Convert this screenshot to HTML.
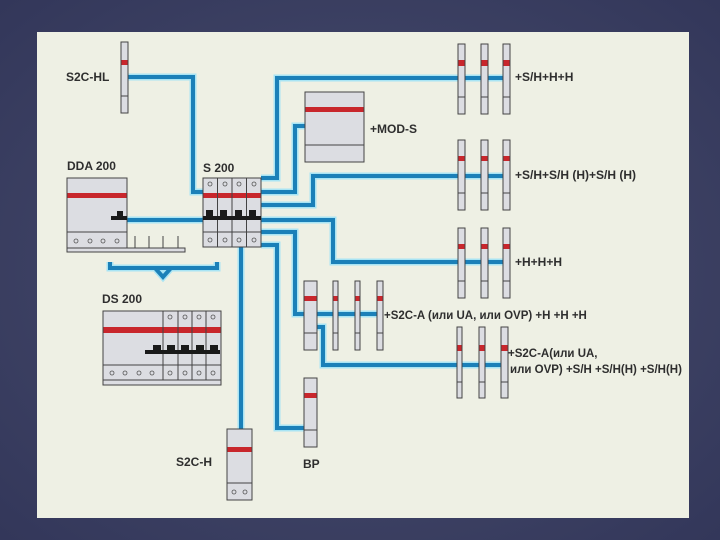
<!DOCTYPE html>
<html><head><meta charset="utf-8"><style>
html,body{margin:0;padding:0;background:#3b3f5f;}
svg{display:block}
text{font-family:"Liberation Sans",sans-serif;font-weight:bold;fill:#2e2e2e;font-size:12px}
.m{fill:#dcdde2;stroke:#444;stroke-width:1}
.r{fill:#c8262c}
.l{stroke:#444;stroke-width:1}
.wh{fill:none;stroke:#a8e4f4;stroke-width:7}
.w{fill:none;stroke:#1b80b8;stroke-width:4}
.c{fill:none;stroke:#555;stroke-width:0.8}
.k{fill:#1a1a1a}
</style></head><body>
<svg width="720" height="540" viewBox="0 0 720 540">
<defs>
<radialGradient id="bg" cx="50%" cy="50%" r="70%"><stop offset="0" stop-color="#4a4f70"/><stop offset="1" stop-color="#33375a"/></radialGradient>
</defs>
<rect width="720" height="540" fill="url(#bg)"/>
<rect x="37" y="32" width="652" height="486" fill="#eef0e4"/>

<g class="wh">
<path d="M128 77 H193 V192 H203"/><path d="M127 220 H333 V262 H505"/><path d="M261 178 H277 V78 H505"/><path d="M261 192 H295 V126 H305"/><path d="M261 205 H313 V176 H505"/><path d="M261 232 H295 V314 H380"/><path d="M261 245 H277 V428 H304"/><path d="M241 247 V429"/><path d="M317 327 H323 V365 H502"/><path d="M110 262 V268 H217 V262 M155 268 L163 277 L171 268"/>
</g>
<g class="w">
<path d="M128 77 H193 V192 H203"/><path d="M127 220 H333 V262 H505"/><path d="M261 178 H277 V78 H505"/><path d="M261 192 H295 V126 H305"/><path d="M261 205 H313 V176 H505"/><path d="M261 232 H295 V314 H380"/><path d="M261 245 H277 V428 H304"/><path d="M241 247 V429"/><path d="M317 327 H323 V365 H502"/><path d="M110 262 V268 H217 V262 M155 268 L163 277 L171 268"/>
</g>

<!-- S2C-HL -->
<rect class="m" x="121" y="42" width="7" height="71"/><rect class="r" x="121.5" y="60" width="6" height="5"/><line class="l" x1="121" y1="96" x2="128" y2="96"/>
<text x="66" y="81">S2C-HL</text>

<!-- DDA 200 -->
<text x="67" y="170">DDA 200</text>
<rect class="m" x="67" y="178" width="60" height="70"/>
<rect class="r" x="67.5" y="193" width="59" height="5"/>
<rect class="k" x="117" y="211" width="6" height="6"/><rect class="k" x="111" y="216" width="16" height="4"/>
<line class="l" x1="67" y1="232" x2="127" y2="232"/>
<g class="c"><circle cx="76" cy="241" r="2"/><circle cx="90" cy="241" r="2"/><circle cx="103" cy="241" r="2"/><circle cx="117" cy="241" r="2"/></g>
<rect class="m" x="67" y="248" width="118" height="4"/>
<g class="l" stroke-width="1.5"><line x1="135" y1="236" x2="135" y2="248"/><line x1="149" y1="236" x2="149" y2="248"/><line x1="163" y1="236" x2="163" y2="248"/><line x1="178" y1="236" x2="178" y2="248"/></g>

<!-- S 200 -->
<text x="203" y="172">S 200</text>
<rect class="m" x="203" y="178" width="58" height="69"/>
<rect class="r" x="203.5" y="193" width="57" height="5"/>
<g class="l"><line x1="217.5" y1="178" x2="217.5" y2="247"/><line x1="232" y1="178" x2="232" y2="247"/><line x1="246.5" y1="178" x2="246.5" y2="247"/><line x1="203" y1="232" x2="261" y2="232"/></g>
<g class="k"><rect x="206" y="210" width="7" height="7"/><rect x="220" y="210" width="7" height="7"/><rect x="235" y="210" width="7" height="7"/><rect x="249" y="210" width="7" height="7"/><rect x="203" y="216" width="58" height="4"/></g>
<g class="c"><circle cx="210" cy="184" r="2"/><circle cx="225" cy="184" r="2"/><circle cx="239" cy="184" r="2"/><circle cx="254" cy="184" r="2"/><circle cx="210" cy="240" r="2"/><circle cx="225" cy="240" r="2"/><circle cx="239" cy="240" r="2"/><circle cx="254" cy="240" r="2"/></g>

<!-- MOD-S -->
<rect class="m" x="305" y="92" width="59" height="70"/><rect class="r" x="305.5" y="107" width="58" height="5"/><line class="l" x1="305" y1="145" x2="364" y2="145"/>
<text x="370" y="133">+MOD-S</text>

<!-- top rows -->
<rect class="m" x="458" y="44" width="7" height="70"/><rect class="m" x="481" y="44" width="7" height="70"/><rect class="m" x="503" y="44" width="7" height="70"/>
<rect class="r" x="458.5" y="60" width="6" height="6"/><rect class="r" x="481.5" y="60" width="6" height="6"/><rect class="r" x="503.5" y="60" width="6" height="6"/>
<g class="l"><line x1="458" y1="97" x2="465" y2="97"/><line x1="481" y1="97" x2="488" y2="97"/><line x1="503" y1="97" x2="510" y2="97"/></g>
<text x="515" y="81">+S/H+H+H</text>

<rect class="m" x="458" y="140" width="7" height="70"/><rect class="m" x="481" y="140" width="7" height="70"/><rect class="m" x="503" y="140" width="7" height="70"/>
<rect class="r" x="458.5" y="156" width="6" height="5"/><rect class="r" x="481.5" y="156" width="6" height="5"/><rect class="r" x="503.5" y="156" width="6" height="5"/>
<g class="l"><line x1="458" y1="193" x2="465" y2="193"/><line x1="481" y1="193" x2="488" y2="193"/><line x1="503" y1="193" x2="510" y2="193"/></g>
<text x="515" y="179">+S/H+S/H (H)+S/H (H)</text>

<rect class="m" x="458" y="228" width="7" height="70"/><rect class="m" x="481" y="228" width="7" height="70"/><rect class="m" x="503" y="228" width="7" height="70"/>
<rect class="r" x="458.5" y="244" width="6" height="5"/><rect class="r" x="481.5" y="244" width="6" height="5"/><rect class="r" x="503.5" y="244" width="6" height="5"/>
<g class="l"><line x1="458" y1="281" x2="465" y2="281"/><line x1="481" y1="281" x2="488" y2="281"/><line x1="503" y1="281" x2="510" y2="281"/></g>
<text x="515" y="266">+H+H+H</text>

<!-- S2C-A row -->
<rect class="m" x="304" y="281" width="13" height="69"/><rect class="r" x="304.5" y="296" width="12" height="5"/><line class="l" x1="304" y1="333" x2="317" y2="333"/>
<rect class="m" x="333" y="281" width="5" height="69"/><rect class="m" x="355" y="281" width="5" height="69"/><rect class="m" x="377" y="281" width="6" height="69"/>
<rect class="r" x="333.5" y="296" width="4" height="5"/><rect class="r" x="355.5" y="296" width="4" height="5"/><rect class="r" x="377.5" y="296" width="5" height="5"/>
<g class="l"><line x1="333" y1="333" x2="338" y2="333"/><line x1="355" y1="333" x2="360" y2="333"/><line x1="377" y1="333" x2="383" y2="333"/></g>
<text x="384" y="319" style="font-size:11.5px">+S2C-A (или UA, или OVP) +H +H +H</text>

<!-- second S2C-A row -->
<rect class="m" x="457" y="327" width="5" height="71"/><rect class="m" x="479" y="327" width="6" height="71"/><rect class="m" x="501" y="327" width="7" height="71"/>
<rect class="r" x="457.5" y="345" width="4" height="6"/><rect class="r" x="479.5" y="345" width="5" height="6"/><rect class="r" x="501.5" y="345" width="6" height="6"/>
<g class="l" stroke-width="1.5"><line x1="457" y1="382" x2="462" y2="382"/><line x1="479" y1="382" x2="485" y2="382"/><line x1="501" y1="382" x2="508" y2="382"/></g>
<text x="508" y="357" style="font-size:11.5px">+S2C-A(или UA,</text>
<text x="510" y="373" style="font-size:11.5px">или OVP) +S/H +S/H(H) +S/H(H)</text>

<!-- BP -->
<rect class="m" x="304" y="378" width="13" height="69"/><rect class="r" x="304.5" y="393" width="12" height="5"/><line class="l" x1="304" y1="430" x2="317" y2="430"/>
<text x="303" y="468">BP</text>

<!-- DS 200 -->
<text x="102" y="303">DS 200</text>
<rect class="m" x="103" y="311" width="118" height="74"/>
<rect class="r" x="103.5" y="327" width="117" height="6"/>
<g class="l"><line x1="163" y1="311" x2="163" y2="380"/><line x1="178" y1="311" x2="178" y2="380"/><line x1="192" y1="311" x2="192" y2="380"/><line x1="206" y1="311" x2="206" y2="380"/><line x1="103" y1="365" x2="221" y2="365"/><line x1="103" y1="380" x2="221" y2="380"/></g>
<g class="k"><rect x="153" y="345" width="8" height="7"/><rect x="167" y="345" width="8" height="7"/><rect x="181" y="345" width="8" height="7"/><rect x="196" y="345" width="8" height="7"/><rect x="210" y="345" width="8" height="7"/><rect x="145" y="350" width="75" height="4"/></g>
<g class="c"><circle cx="170" cy="317" r="2"/><circle cx="185" cy="317" r="2"/><circle cx="199" cy="317" r="2"/><circle cx="213" cy="317" r="2"/>
<circle cx="112" cy="373" r="2"/><circle cx="125" cy="373" r="2"/><circle cx="139" cy="373" r="2"/><circle cx="152" cy="373" r="2"/><circle cx="170" cy="373" r="2"/><circle cx="185" cy="373" r="2"/><circle cx="199" cy="373" r="2"/><circle cx="213" cy="373" r="2"/></g>

<!-- S2C-H -->
<rect class="m" x="227" y="429" width="25" height="71"/><rect class="r" x="227.5" y="447" width="24" height="5"/><line class="l" x1="227" y1="483" x2="252" y2="483"/>
<g class="c"><circle cx="234" cy="492" r="2"/><circle cx="245" cy="492" r="2"/></g>
<text x="176" y="466">S2C-H</text>
</svg>
</body></html>
